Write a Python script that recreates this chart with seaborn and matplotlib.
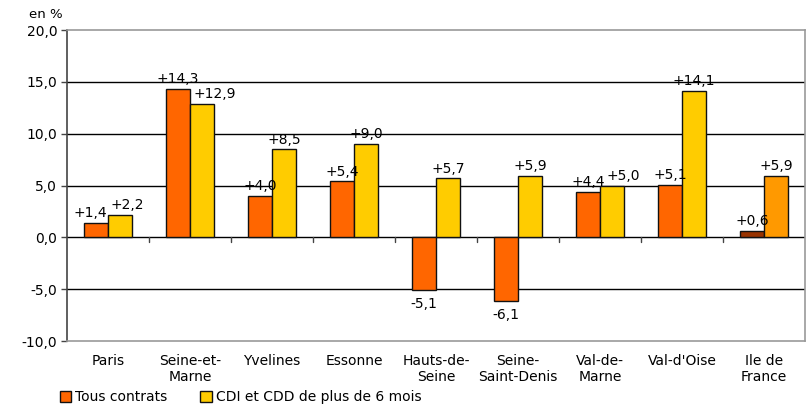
import pandas as pd
import numpy as np
import matplotlib.pyplot as plt
import seaborn as sns
from matplotlib.patches import Patch

# ── DATA ──────────────────────────────────────────────────────────────────────
departements = ['Paris', 'Seine-et-\nMarne', 'Yvelines', 'Essonne', 'Hauts-de-\nSeine',
                'Seine-\nSaint-Denis', 'Val-de-\nMarne', "Val-d'Oise", 'Ile de\nFrance']
tous_contrats = [1.4, 14.3, 4.0, 5.4, -5.1, -6.1, 4.4, 5.1, 0.6]
cdi_cdd = [2.2, 12.9, 8.5, 9.0, 5.7, 5.9, 5.0, 14.1, 5.9]
series = ['Tous contrats', 'CDI et CDD de plus de 6 mois']

df = pd.DataFrame({
    'dep': departements * 2,
    'serie': [series[0]] * len(departements) + [series[1]] * len(departements),
    'val': tous_contrats + cdi_cdd,
})

# ── STYLE ─────────────────────────────────────────────────────────────────────
sns.set_style('white', {'text.color': 'black', 'axes.labelcolor': 'black',
                        'xtick.color': 'black', 'ytick.color': 'black'})
plt.rcParams['font.family'] = ['DejaVu Sans']

fig = plt.figure(figsize=(8.12, 4.12), dpi=100)
ax = fig.add_axes([0.0825, 0.172, 0.909, 0.755])

colors = ['#FF6600', '#FFCC00']
sns.barplot(data=df, x='dep', y='val', hue='serie', palette=colors, ax=ax, saturation=1,
            width=0.585, edgecolor='#111111', linewidth=1.0, legend=False, zorder=3)

# Ile de France uses darker colours
n = len(departements)
bars = ax.patches
bars[n - 1].set_facecolor('#993300')
bars[2 * n - 1].set_facecolor('#FF9900')

ax.set_ylim(-10, 20)
ax.set_xlim(-0.5, n - 0.5)
ax.set_yticks(np.arange(-10, 21, 5))
ax.set_yticklabels([f'{v:.1f}'.replace('.', ',') for v in np.arange(-10, 21, 5)], fontsize=10)
ax.set_xlabel('')
ax.set_ylabel('')
ax.tick_params(axis='x', length=0, pad=9, labelsize=10)
ax.tick_params(axis='y', length=4, left=True, width=1, color='#444444', pad=3)

for v in [-5, 0, 5, 10, 15]:
    ax.axhline(v, color='black', lw=1, zorder=1)

for s in ['top', 'right', 'bottom']:
    ax.spines[s].set_color('#999999')
    ax.spines[s].set_linewidth(1.2)
ax.spines['left'].set_color('#444444')
ax.spines['left'].set_linewidth(1.2)

# category separator ticks on zero line
for b in np.arange(0.5, n - 0.5, 1):
    ax.plot([b, b], [0, -0.45], color='#444444', lw=1, zorder=2)

fig.text(0.057, 0.965, 'en %', fontsize=9.5, ha='center', va='center')

# value labels
shift = {0: (-4, 5), 1: (0, 9), 6: (0, 8)}
for i in range(n):
    for j, vals in enumerate([tous_contrats, cdi_cdd]):
        bar = bars[j * n + i]
        v = vals[i]
        x = bar.get_x() + bar.get_width() / 2
        dx = shift.get(i, (0, 0))[j]
        txt = f'{v:+.1f}'.replace('.', ',')
        if v >= 0:
            ax.annotate(txt, (x, v), xytext=(dx, 2), textcoords='offset points',
                        ha='center', va='bottom', fontsize=10)
        else:
            ax.annotate(txt, (x, v), xytext=(dx, -5), textcoords='offset points',
                        ha='center', va='top', fontsize=10)

handles = [Patch(facecolor=c, edgecolor='#111111', lw=1) for c in colors]
fig.legend(handles, series, loc='lower left', bbox_to_anchor=(0.058, -0.012), ncol=2,
           frameon=False, fontsize=10, handlelength=0.8, handleheight=0.8,
           handletextpad=0.3, columnspacing=2.4)

plt.savefig('out.png', dpi=100)
